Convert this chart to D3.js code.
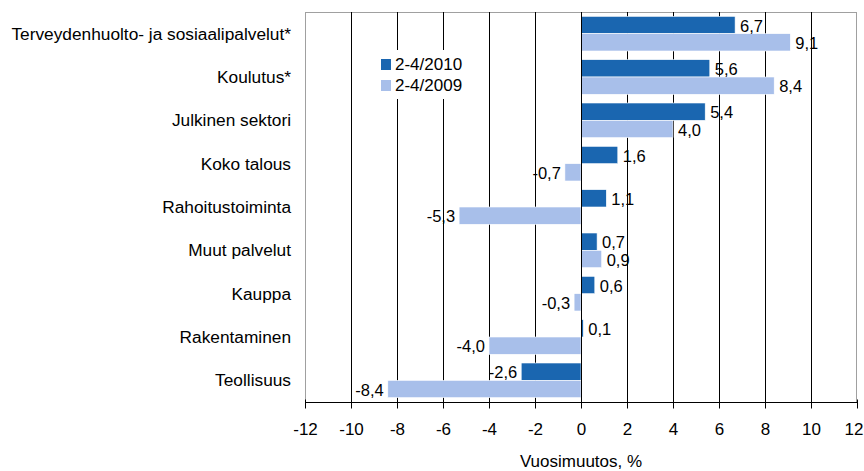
<!DOCTYPE html>
<html>
<head>
<meta charset="utf-8">
<script src="https://cdn.jsdelivr.net/npm/d3@7"></script>
<style>
	body { margin: 0; background: #fff; }
	text { font-family: "Liberation Sans", Arial, sans-serif; fill: #000; }
</style>
</head>
<body>
<svg id="chart" width="864" height="471"></svg>
<script>
const categories = [
	"Terveydenhuolto- ja sosiaalipalvelut*",
	"Koulutus*",
	"Julkinen sektori",
	"Koko talous",
	"Rahoitustoiminta",
	"Muut palvelut",
	"Kauppa",
	"Rakentaminen",
	"Teollisuus",
];
const seriesNames = ["2-4/2010", "2-4/2009"];
const values2010 = [6.7, 5.6, 5.4, 1.6, 1.1, 0.7, 0.6, 0.1, -2.6];
const values2009 = [9.1, 8.4, 4.0, -0.7, -5.3, 0.9, -0.3, -4.0, -8.4];
const xTicks = [-12, -10, -8, -6, -4, -2, 0, 2, 4, 6, 8, 10, 12];
const colors = ["#1a66b0", "#a8bfea"];

const fi = d3.formatLocale({ decimal: ",", thousands: " ", grouping: [3], currency: ["", ""], minus: "-" });
const fmt1 = fi.format(".1f");
const fmt0 = fi.format("d");

const svg = d3.select("#chart");
const pLeft = 305, pRight = 857, pTop = 12, pBottom = 402;

const x = d3.scaleLinear().domain([-12, 12]).range([pLeft, pRight]);
const y = d3.scaleBand().domain(categories).range([pTop, pBottom]).paddingInner(0.2).paddingOuter(0.1);
const sub = d3.scaleBand().domain(seriesNames).range([0, y.bandwidth()]);

// plot frame
svg.append("rect")
	.attr("x", pLeft + 0.5).attr("y", pTop + 0.5)
	.attr("width", pRight - pLeft - 1).attr("height", pBottom - pTop)
	.attr("fill", "none").attr("stroke", "#a0a0a0");

// grid
svg.append("g").selectAll("line")
	.data(xTicks.slice(1, -1))
	.join("line")
	.attr("x1", (d) => Math.round(x(d)) + 0.5)
	.attr("x2", (d) => Math.round(x(d)) + 0.5)
	.attr("y1", pTop).attr("y2", pBottom)
	.attr("stroke", "#000").attr("stroke-width", 1);

// legend background hides grid
const lg = svg.append("g").attr("transform", "translate(381,59)");
lg.append("rect").attr("x", -6).attr("y", -9).attr("width", 98).attr("height", 49).attr("fill", "#fff");
seriesNames.forEach((s, i) => {
	lg.append("rect").attr("x", 0).attr("y", i * 21).attr("width", 10).attr("height", 11).attr("fill", colors[i]);
	lg.append("text").attr("x", 14).attr("y", i * 21 + 5.5).attr("dy", "0.35em")
		.style("font-size", "17px").text(s);
});

// bars
const rows = categories.map((c, i) => ({ cat: c, vals: [values2010[i], values2009[i]] }));
const grp = svg.append("g").selectAll("g")
	.data(rows)
	.join("g")
	.attr("transform", (d) => `translate(0,${y(d.cat)})`);

grp.selectAll("rect")
	.data((d) => d.vals.map((v, i) => ({ v, s: seriesNames[i], i })))
	.join("rect")
	.attr("x", (d) => x(Math.min(0, d.v)))
	.attr("y", (d) => sub(d.s))
	.attr("width", (d) => Math.abs(x(d.v) - x(0)))
	.attr("height", sub.bandwidth())
	.attr("fill", (d) => colors[d.i])
	.attr("stroke", "#fff").attr("stroke-width", 0.6);

grp.selectAll("text")
	.data((d) => d.vals.map((v, i) => ({ v, s: seriesNames[i] })))
	.join("text")
	.attr("x", (d) => (d.v >= 0 ? x(d.v) + 5 : x(d.v) - 4))
	.attr("y", (d) => sub(d.s) + sub.bandwidth() / 2 + 1)
	.attr("dy", "0.35em")
	.attr("text-anchor", (d) => (d.v >= 0 ? "start" : "end"))
	.style("font-size", "16.5px")
	.text((d) => fmt1(d.v));

// zero line
svg.append("line")
	.attr("x1", Math.round(x(0)) + 0.5).attr("x2", Math.round(x(0)) + 0.5)
	.attr("y1", pTop).attr("y2", pBottom)
	.attr("stroke", "#000");

// category labels
svg.append("g").selectAll("text")
	.data(categories)
	.join("text")
	.attr("x", 291)
	.attr("y", (d) => y(d) + y.bandwidth() / 2)
	.attr("dy", "0.35em")
	.attr("text-anchor", "end")
	.style("font-size", "17.3px")
	.text((d) => d);

// x axis
const ax = svg.append("g")
	.attr("transform", `translate(0,${pBottom + 0.5})`)
	.call(d3.axisBottom(x).tickValues(xTicks).tickFormat(fmt0).tickSize(6).tickPadding(14));
ax.select(".domain").attr("stroke", "#000").attr("d", `M${pLeft},0H${pRight}`);
ax.selectAll(".tick line").attr("y1", -3).attr("y2", 6).attr("stroke", "#000");
ax.selectAll(".tick text").style("font-size", "17px").style("font-family", "'Liberation Sans', Arial, sans-serif");
// last label pulled in so it stays inside the window
ax.selectAll(".tick text").filter((d) => d === 12).attr("text-anchor", "end").attr("x", 6);

svg.append("text")
	.attr("x", x(0))
	.attr("y", 461)
	.attr("dy", "0.35em")
	.attr("text-anchor", "middle")
	.style("font-size", "17px")
	.text("Vuosimuutos, %");
</script>
</body>
</html>
